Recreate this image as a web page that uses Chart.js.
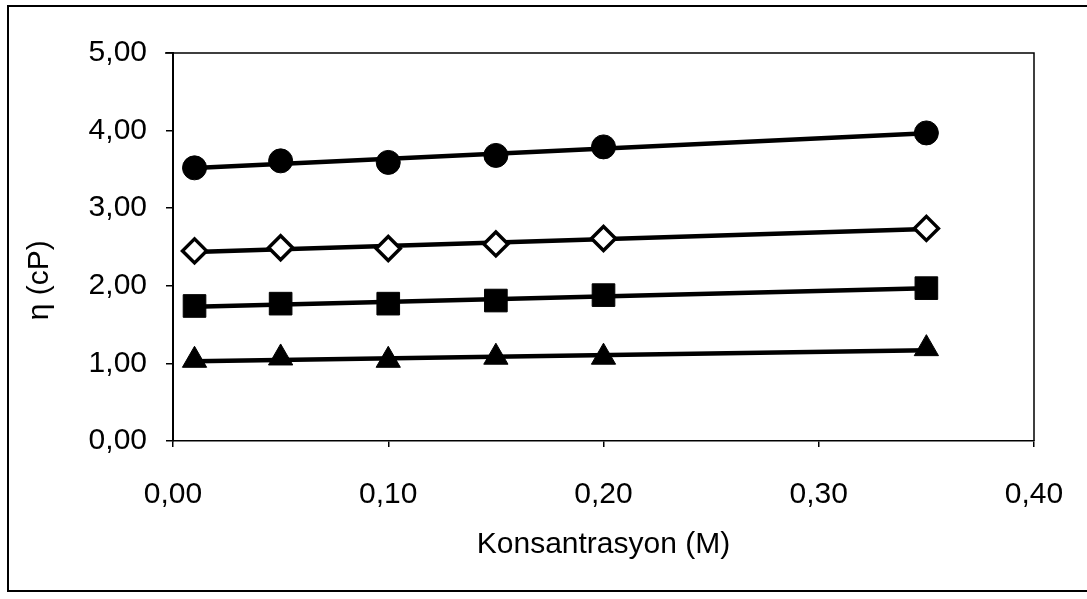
<!DOCTYPE html>
<html>
<head>
<meta charset="utf-8">
<script src="https://cdn.jsdelivr.net/npm/chart.js@4"></script>
<style>
html,body{margin:0;padding:0;background:#fff;}
canvas{display:block;}
</style>
</head>
<body>
<canvas id="c" width="1087" height="599"></canvas>
<script>
const concentrations = [0.01, 0.05, 0.10, 0.15, 0.20, 0.35];
const seriesCircle   = [3.52, 3.61, 3.59, 3.68, 3.79, 3.97];
const seriesDiamond  = [2.45, 2.49, 2.48, 2.54, 2.61, 2.74];
const seriesSquare   = [1.74, 1.77, 1.77, 1.81, 1.88, 1.97];
const seriesTriangle = [1.04, 1.07, 1.04, 1.08, 1.08, 1.19];
const xTickValues = [0, 0.1, 0.2, 0.3, 0.4];
const yTickValues = [0, 1, 2, 3, 4, 5];
const xTitle = 'Konsantrasyon (M)';
const yTitle = 'η (cP)';

function pts(xs, ys){ return xs.map((x,i)=>({x:x, y:ys[i]})); }
function trend(xs, ys){
  const n = xs.length;
  const mx = xs.reduce((a,b)=>a+b,0)/n, my = ys.reduce((a,b)=>a+b,0)/n;
  let sxy=0, sxx=0;
  for(let i=0;i<n;i++){ sxy+=(xs[i]-mx)*(ys[i]-my); sxx+=(xs[i]-mx)*(xs[i]-mx); }
  const b = sxy/sxx, a = my - b*mx;
  const x0 = Math.min(...xs), x1 = Math.max(...xs);
  return [{x:x0, y:a+b*x0}, {x:x1, y:a+b*x1}];
}
const fmt = v => v.toFixed(2).replace('.', ',');
const FONT = 'Liberation Sans, Arial, sans-serif';

const markerSets = [
  {data: seriesCircle, style:'circle', radius:12, bg:'#000', bw:1},
  {data: seriesDiamond, style:'rectRot', radius:12, bg:'#fff', bw:3.5},
  {data: seriesSquare, style:'rect', radius:16, bg:'#000', bw:1},
  {data: seriesTriangle, style:'triangle', radius:14, bg:'#000', bw:1}
];
const datasets = [];
markerSets.forEach(m=>{
  datasets.push({
    type:'scatter', data: pts(concentrations, m.data), showLine:false,
    pointStyle:m.style, pointRadius:m.radius, pointBackgroundColor:m.bg,
    pointBorderColor:'#000', pointBorderWidth:m.bw, order:1
  });
  datasets.push({
    type:'line', data: trend(concentrations, m.data), showLine:true,
    borderColor:'#000', borderWidth:4.5, pointRadius:0, fill:false, order:2
  });
});

const framePlugin = {
  id:'frame',
  beforeDraw(chart){
    const ctx = chart.ctx;
    ctx.save();
    ctx.fillStyle='#fff'; ctx.fillRect(0,0,chart.width,chart.height);
    ctx.strokeStyle='#000'; ctx.lineWidth=2;
    ctx.strokeRect(8,6,1100,585);
    ctx.restore();
  },
  afterDatasetsDraw(chart){
    const a = chart.chartArea, ctx = chart.ctx;
    ctx.save();
    ctx.strokeStyle='#000'; ctx.lineWidth=1.5;
    ctx.beginPath();
    ctx.moveTo(a.left-8, a.top); ctx.lineTo(a.right, a.top); ctx.lineTo(a.right, a.bottom);
    ctx.stroke();
    ctx.restore();
  }
};

new Chart(document.getElementById('c'), {
  data:{datasets},
  plugins:[framePlugin],
  options:{
    responsive:false, animation:false, devicePixelRatio:1,
    layout:{padding:{left:8, top:53, right:53, bottom:20}},
    plugins:{legend:{display:false}, tooltip:{enabled:false}},
    scales:{
      x:{
        type:'linear', min:0, max:0.4,
        afterBuildTicks: s => { s.ticks = xTickValues.map(v=>({value:v})); },
        afterFit: s => { s.height = 138; s.paddingRight = 0; s.paddingLeft = 0; },
        ticks:{font:{family:FONT, size:30}, color:'#000', padding:30, callback:v=>fmt(v), maxRotation:0},
        grid:{drawOnChartArea:false, drawTicks:true, tickLength:6, color:'#000', lineWidth:1.5},
        border:{display:true, color:'#000', width:1.5},
        title:{display:true, text:xTitle, font:{family:FONT, size:30}, color:'#000', padding:{top:0,bottom:16}}
      },
      y:{
        type:'linear', min:0, max:5,
        afterBuildTicks: s => {
          const t=[]; for(let i=0;i<yTickValues.length;i++){ t.push({value:yTickValues[i]}); if(i<yTickValues.length-1) t.push({value:(yTickValues[i]+yTickValues[i+1])/2}); }
          s.ticks = t;
        },
        afterFit: s => { s.width = 165; s.paddingTop = 0; s.paddingBottom = 0; },
        ticks:{font:{family:FONT, size:30}, color:'#000', padding:19,
          callback:v=> yTickValues.includes(v) ? fmt(v) : ''},
        grid:{drawOnChartArea:false, drawTicks:true, tickLength:7, color:'#000', lineWidth:1.5},
        border:{display:true, color:'#000', width:2},
        title:{display:true, text:yTitle + '        ', font:{family:FONT, size:30}, color:'#000', padding:{top:14,bottom:0}}
      }
    }
  }
});
</script>
</body>
</html>
